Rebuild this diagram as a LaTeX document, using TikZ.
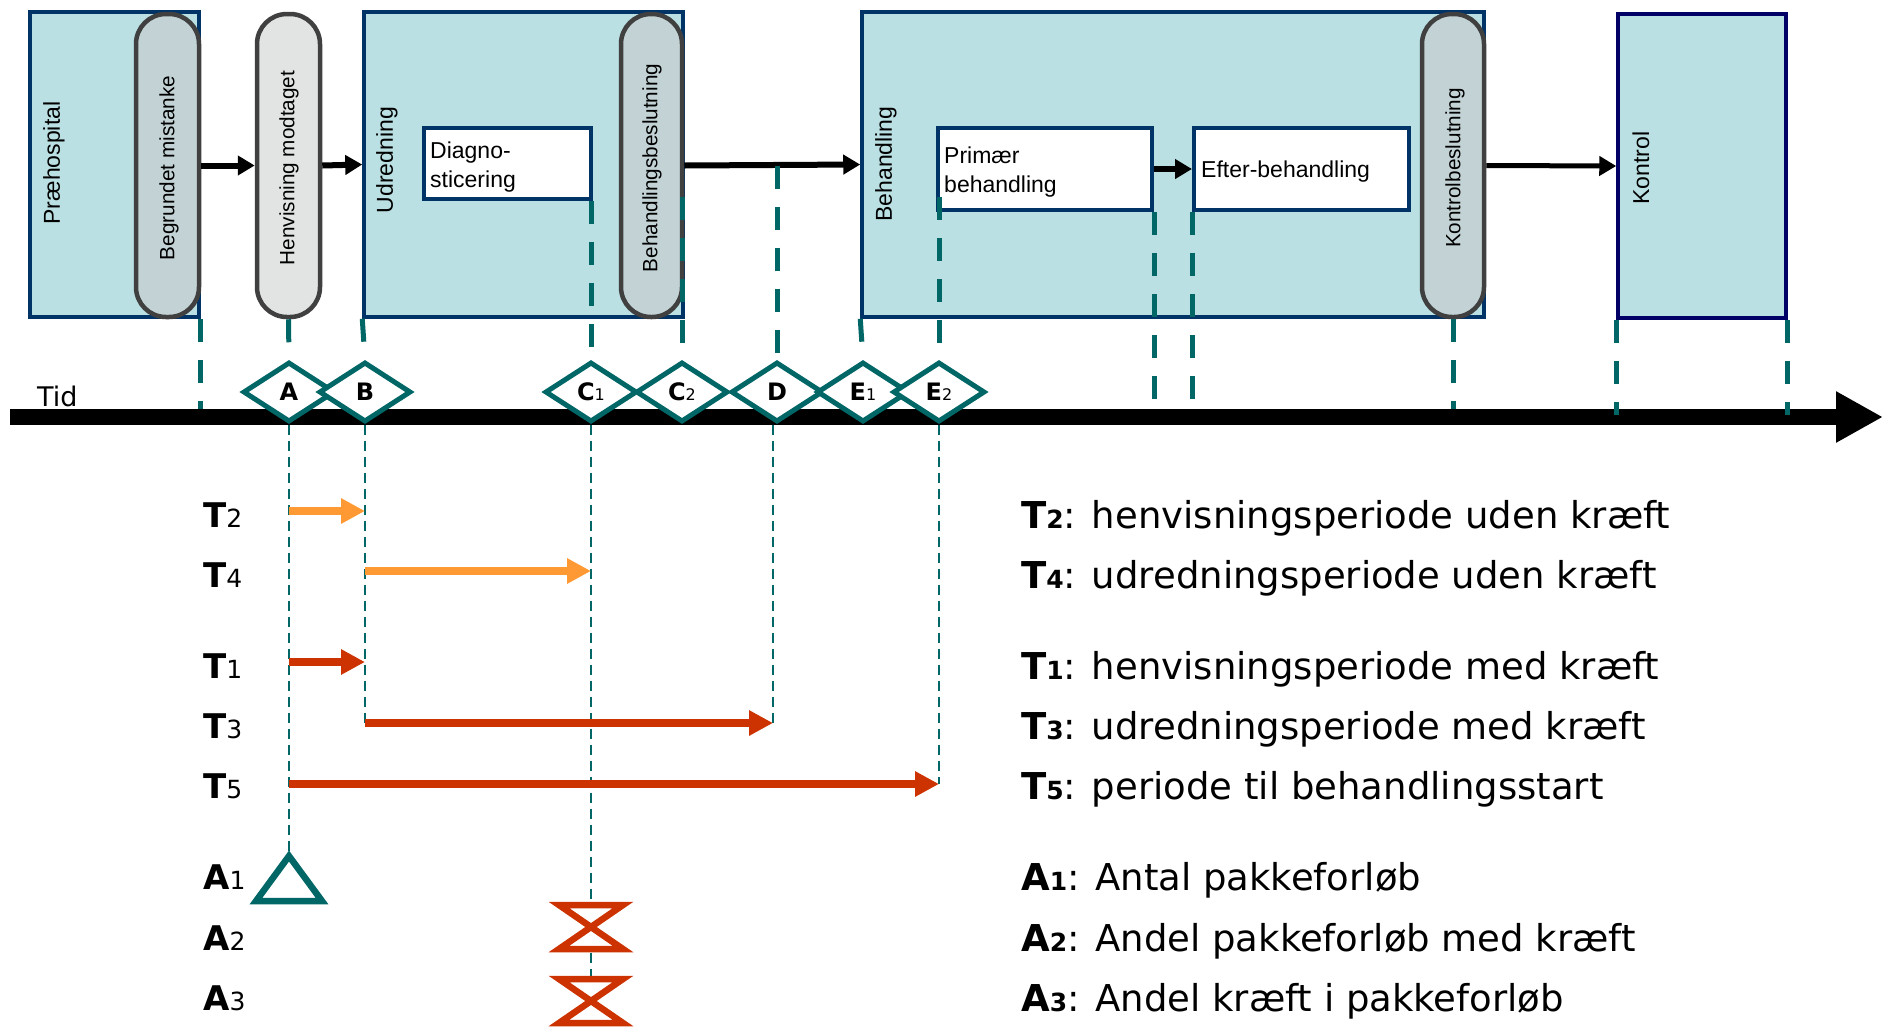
\documentclass[tikz,border=0pt]{standalone}
\usepackage{fontspec}
\setmainfont{Liberation Sans}
\newfontfamily\dv{DejaVu Sans}
\usetikzlibrary{arrows.meta,shapes.geometric,calc}
\definecolor{boxfill}{RGB}{186,224,227}
\definecolor{boxline}{RGB}{0,51,102}
\definecolor{konline}{RGB}{0,0,102}
\definecolor{pillline}{RGB}{64,64,64}
\definecolor{pillfill}{RGB}{195,211,213}
\definecolor{pilllight}{RGB}{226,228,228}
\definecolor{tealc}{RGB}{0,102,102}
\definecolor{orangec}{RGB}{255,153,51}
\definecolor{redc}{RGB}{204,51,0}
\newcommand\lab[2]{\textbf{#1}{\fontsize{16}{16}\selectfont #2}}
\newcommand\llab[2]{\textbf{#1}{\fontsize{25}{25}\selectfont #2}}
\newcommand\glab[2]{\textbf{#1{\fontsize{25}{25}\selectfont #2}}}
\begin{document}
\begin{tikzpicture}[x=1pt,y=-1pt,
  box/.style={draw=boxline, fill=boxfill, line width=3.5pt, inner sep=0pt},
  wbox/.style={draw=boxline, fill=white, line width=4pt, inner sep=0pt},
  pill/.style={draw=pillline, line width=4.5pt, rounded corners=30pt, inner sep=0pt},
  rot/.style={rotate=90, inner sep=0pt, font=\fontsize{23}{27}\selectfont},
  prot/.style={rotate=90, inner sep=0pt, font=\fontsize{20.7}{25}\selectfont},
  btxt/.style={inner sep=0pt, align=left, font=\fontsize{23}{29}\selectfont},
  dia/.style={diamond, draw=tealc, fill=white, line width=5pt, minimum width=92pt,
    minimum height=60pt, inner sep=0pt, font=\dv\fontsize{24}{24}\selectfont},
  bigarrow/.style={line width=6pt, -{Triangle[length=17pt,width=19pt]}},
  tdash/.style={draw=tealc, line width=5pt, dash pattern=on 23pt off 18pt},
  thdash/.style={draw=tealc, line width=2pt, dash pattern=on 10pt off 6pt},
  orarrow/.style={draw=orangec, line width=8pt, -{Triangle[length=24pt,width=24pt]}},
  rdarrow/.style={draw=redc, line width=8pt, -{Triangle[length=24pt,width=24pt]}},
  lbl/.style={anchor=base west, inner sep=0pt, font=\dv\fontsize{34}{34}\selectfont},
  leg/.style={anchor=base west, inner sep=0pt, font=\dv\fontsize{37}{37}\selectfont},
  hour/.style={draw=redc, fill=white, line width=6.5pt, line join=miter}]
\useasboundingbox (0,0) rectangle (1890,1029);
% boxes
\node[box, minimum width=169pt, minimum height=305pt] (prae) at (114.5,164.5) {};
\node[box, minimum width=319pt, minimum height=305pt] (udr) at (523.5,164.5) {};
\node[box, minimum width=622pt, minimum height=305pt] (beh) at (1173,164.5) {};
\node[box, draw=konline, minimum width=168pt, minimum height=304pt] (kon) at (1702,166) {};
\node[wbox, minimum width=167pt, minimum height=71pt] (diag) at (507.5,163.5) {};
\node[wbox, minimum width=214pt, minimum height=82pt] (prim) at (1045,169) {};
\node[wbox, minimum width=215pt, minimum height=82pt] (efter) at (1301.5,169) {};
% pills
\node[pill, fill=pillfill, minimum width=63pt, minimum height=303pt] (begr) at (167.5,165.5) {};
\node[pill, fill=pilllight, minimum width=63pt, minimum height=303pt] (henv) at (288.5,165.5) {};
\node[pill, fill=pillfill, minimum width=61pt, minimum height=303pt] (behb) at (651.5,165.5) {};
\node[pill, fill=pillfill, minimum width=62pt, minimum height=303pt] (kontb) at (1453,165.5) {};
% texts
\node[rot] (tprae) at (54,163) {Præhospital};
\node[prot] (tbegr) at (169,168) {Begrundet mistanke};
\node[prot] (thenv) at (289,168) {Henvisning modtaget};
\node[rot] (tudr) at (387,160) {Udredning};
\node[prot] (tbehb) at (652,168) {Behandlingsbeslutning};
\node[rot] (tbeh) at (886,164) {Behandling};
\node[prot] (tkontb) at (1455,168) {Kontrolbeslutning};
\node[rot] (tkon) at (1641,168) {Kontrol};
\node[btxt, anchor=west] (tdiag) at ($(diag.west)+(8,4)$) {Diagno-\\sticering};
\node[btxt, anchor=west] (tprim) at ($(prim.west)+(8,3)$) {Primær\\behandling};
\node[btxt, anchor=west] (tefter) at ($(efter.west)+(9,3)$) {Efter-behandling};
% process arrows
\draw[bigarrow] (begr.east) -- (henv.west);
\draw[bigarrow] (henv.east) -- (udr.west);
\draw[bigarrow] (behb.east) -- (beh.west);
\draw[bigarrow] (prim.east) -- (efter.west);
\draw[bigarrow, line width=5pt] (kontb.east) -- (kon.west);
% timeline
\coordinate (tlS) at (10,417);
\coordinate (tlE) at (1883,417);
\coordinate (top) at (0,409);
\coordinate (low) at (0,400);
\node[inner sep=0pt, anchor=base west, font=\dv\fontsize{27}{27}\selectfont] (tid) at (37,406) {Tid};
\draw[line width=16pt, -{Triangle[length=47pt,width=48pt]}] (tlS) -- (tlE);
% diamonds
\node[dia] (A) at (289,392) {\lab{A}{}};
\node[dia] (B) at (365,392) {\lab{B}{}};
\node[dia] (C1) at (591,392) {\lab{C}{1}};
\node[dia] (C2) at (682,392) {\lab{C}{2}};
\node[dia] (D) at (777,392) {\lab{D}{}};
\node[dia] (E1) at (863,392) {\lab{E}{1}};
\node[dia] (E2) at (939,392) {\lab{E}{2}};
% thick dashed lines
\draw[tdash] (prae.south east) -- (prae.south east |- top);
\draw[tdash] (henv.south) -- (A.north);
\draw[tdash] (udr.south west) -- (B.north);
\draw[tdash] (C1.north |- diag.south) -- (C1.north);
\draw[tdash] ($(C2.north |- diag.south)+(0,-4)$) -- (C2.north);
\draw[tdash] (D.north |- behb.east) -- (D.north);
\draw[tdash] (beh.south west) -- (E1.north);
\draw[tdash] ($(E2.north |- diag.south)+(0,-4)$) -- (E2.north);
\draw[tdash] (prim.south east) -- (prim.south east |- low);
\draw[tdash] (efter.south west) -- (efter.south west |- low);
\draw[tdash] (kontb.south) -- (kontb.south |- top);
\draw[tdash] (kon.south west) -- ($(kon.south west |- top)+(0,6)$);
\draw[tdash] (kon.south east) -- ($(kon.south east |- top)+(0,6)$);
% rows
\coordinate (rT2) at (0,511);
\coordinate (rT4) at (0,571);
\coordinate (rT1) at (0,662);
\coordinate (rT3) at (0,723);
\coordinate (rT5) at (0,784);
\coordinate (a1top) at (289,856);
\coordinate (a2c) at (591,927);
\coordinate (a3c) at (591,1001);
\coordinate (a3top) at (591,976);
% thin dashed lines
\draw[thdash] (A.south) -- (a1top);
\draw[thdash] (B.south) -- (B.south |- rT3);
\draw[thdash] (C1.south) -- (a3top);
\draw[thdash] ($(D.south)+(-4,0)$) -- ($(D.south |- rT3)+(-4,0)$);
\draw[thdash] (E2.south) -- (E2.south |- rT5);
% period arrows
\draw[orarrow] (A.south |- rT2) -- (B.south |- rT2);
\draw[orarrow] (B.south |- rT4) -- (C1.south |- rT4);
\draw[rdarrow] (A.south |- rT1) -- (B.south |- rT1);
\draw[rdarrow] (B.south |- rT3) -- ($(D.south |- rT3)+(-4,0)$);
\draw[rdarrow] (A.south |- rT5) -- (E2.south |- rT5);
% markers
\draw[draw=tealc, fill=white, line width=6.5pt, line join=miter] (a1top) -- ++(33,45) -- ++(-66,0) -- cycle;
\draw[hour] ($(a2c)+(-32,-22)$) -- ++(64,0) -- ++(-64,44) -- ++(64,0) -- cycle;
\draw[hour] ($(a3c)+(-32,-22)$) -- ++(64,0) -- ++(-64,44) -- ++(64,0) -- cycle;
% left labels
\node[lbl] (lT2) at (203,527) {\llab{T}{2}};
\node[lbl] (lT4) at (203,587) {\llab{T}{4}};
\node[lbl] (lT1) at (203,678) {\llab{T}{1}};
\node[lbl] (lT3) at (203,738) {\llab{T}{3}};
\node[lbl] (lT5) at (203,798) {\llab{T}{5}};
\node[lbl] (lA1) at (203,889) {\llab{A}{1}};
\node[lbl] (lA2) at (203,950) {\llab{A}{2}};
\node[lbl] (lA3) at (203,1010) {\llab{A}{3}};
% legend
\node[leg] (gT2) at (1021,528) {\glab{T}{2}: henvisningsperiode uden kræft};
\node[leg] (gT4) at (1021,588) {\glab{T}{4}: udredningsperiode uden kræft};
\node[leg] (gT1) at (1021,679) {\glab{T}{1}: henvisningsperiode med kræft};
\node[leg] (gT3) at (1021,739) {\glab{T}{3}: udredningsperiode med kræft};
\node[leg] (gT5) at (1021,799) {\glab{T}{5}: periode til behandlingsstart};
\node[leg] (gA1) at (1021,890) {\glab{A}{1}: Antal pakkeforløb};
\node[leg] (gA2) at (1021,951) {\glab{A}{2}: Andel pakkeforløb med kræft};
\node[leg] (gA3) at (1021,1011) {\glab{A}{3}: Andel kræft i pakkeforløb};
\end{tikzpicture}
\end{document}
